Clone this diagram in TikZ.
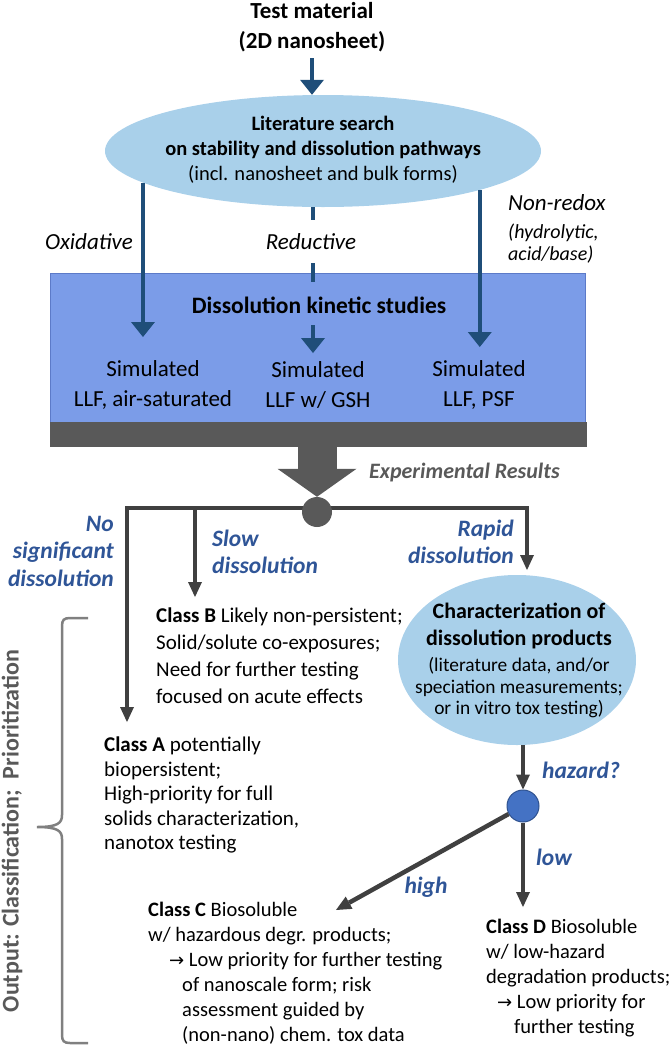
\documentclass[tikz,border=0pt]{standalone}
\usepackage{fontspec}
\setmainfont{Carlito}
\newfontfamily\djv[Scale=0.88]{DejaVu Sans}
\usetikzlibrary{arrows.meta,shapes.geometric}
\definecolor{litblue}{RGB}{169,208,234}
\definecolor{boxblue}{RGB}{123,156,232}
\definecolor{boxborder}{RGB}{92,122,200}
\definecolor{bargray}{RGB}{89,89,89}
\definecolor{arrowblue}{RGB}{31,78,121}
\definecolor{darkline}{RGB}{64,64,64}
\definecolor{labelblue}{RGB}{47,85,151}
\definecolor{hazblue}{RGB}{68,114,196}
\definecolor{hazborder}{RGB}{47,82,143}
\definecolor{bracegray}{RGB}{128,128,128}
\newcommand{\myfs}[2]{\fontsize{#1}{#2}\selectfont}
\newcommand{\rarr}{{\djv →}}
\tikzset{
  barrow/.style={draw=arrowblue, line width=4.5pt, -{Triangle[width=24pt,length=15pt,line width=0pt]}},
  garrow/.style={draw=darkline, line width=4.5pt, -{Triangle[width=14pt,length=15pt,line width=0pt]}},
  lbl/.style={text=labelblue, font=\bfseries\itshape\myfs{23.5}{27.5}},
  classtxt/.style={align=left, anchor=west, inner sep=0pt, font=\myfs{20.5}{25}},
  ell/.style={ellipse, fill=litblue, inner sep=0pt},
}
\begin{document}
\begin{tikzpicture}[x=1pt,y=-1pt]
\useasboundingbox (0,0) rectangle (672,1050);
% top
\node[font=\bfseries\myfs{23}{30}, align=center, inner sep=0pt] (test) at (312,27) {Test material\\(2D nanosheet)};
\node[ell, minimum width=436pt, minimum height=112pt] (lit) at (323,151) {};
\node[align=center, inner sep=0pt, font=\myfs{20.5}{25}] (littext) at (323,150) {\textbf{Literature search}\\\textbf{on stability and dissolution pathways}\\(incl. nanosheet and bulk forms)};
\draw[barrow, shorten <=6pt] (test.south) -- (test.south |- lit.north);
% box
\node[fill=boxblue, draw=boxborder, line width=1pt, minimum width=535pt, minimum height=149pt, anchor=north west, inner sep=0pt] (box) at (50,273) {};
\node[fill=bargray, minimum width=537pt, minimum height=25pt, anchor=north west, inner sep=0pt] (bar) at (50,422) {};
\node[font=\bfseries\myfs{23.5}{28}] (dks) at (319,305) {Dissolution kinetic studies};
\node[font=\myfs{23}{30}, align=center] (sim1) at (153,385) {Simulated\\LLF, air-saturated};
\node[font=\myfs{23}{30}, align=center] (sim2) at (318,385) {Simulated\\LLF w/ GSH};
\node[font=\myfs{23}{30}, align=center] (sim3) at (479,385) {Simulated\\LLF, PSF};
\coordinate (oxEnd) at (147,337);
\coordinate (reEnd) at (313,353);
\coordinate (nrEnd) at (483,347);
\draw[barrow] (lit.190.6) -- (lit.190.6 |- oxEnd);
\draw[barrow] (lit.346.64) -- (lit.346.64 |- nrEnd);
\draw[barrow, dash pattern=on 19pt off 43pt, dash phase=6pt] (lit.south -| reEnd) -- (reEnd);
\node[font=\itshape\myfs{23}{27}] (ox) at (89,242) {Oxidative};
\node[font=\itshape\myfs{23}{27}] (red) at (311,242) {Reductive};
\node[font=\itshape\myfs{23}{27}, anchor=west, inner sep=0pt] (nr) at (508,203) {Non-redox};
\node[font=\itshape\myfs{20}{22}, align=left, anchor=west, inner sep=0pt] (nr2) at (508,244) {(hydrolytic,\\acid/base)};
% split
\coordinate (junc) at (317,508);
\coordinate (tipA) at (127,722);
\coordinate (tipB) at (195,597);
\coordinate (tipR) at (527,570);
\draw[garrow] (junc) -| (tipA);
\draw[garrow] (junc -| tipB) -- (tipB);
\draw[garrow] (junc) -| (tipR);
\node[circle, fill=bargray, minimum size=30pt, inner sep=0pt] (split) at (317,512) {};
\draw[bargray, line width=39pt, -{Triangle[width=79pt,length=28pt,line width=0pt]}] (bar.south -| split) -- (split.north);
\node[font=\bfseries\itshape\myfs{22}{26}, text=bargray, anchor=west, inner sep=0pt] (expres) at (369,473) {Experimental Results};
\node[lbl, align=right, anchor=east, inner sep=0pt] (lnone) at (114,551) {No\\significant\\dissolution};
\node[lbl, align=left, anchor=west, inner sep=0pt] (lslow) at (212,552) {Slow\\dissolution};
\node[lbl, align=right, anchor=east, inner sep=0pt] (lrapid) at (514,542) {Rapid\\dissolution};
% classes
\node[classtxt, font=\myfs{21}{27}] (classB) at (156,656) {\textbf{Class B} Likely non-persistent;\\Solid/solute co-exposures;\\Need for further testing\\focused on acute effects};
\node[classtxt, font=\myfs{21}{24.5}] (classA) at (104,795) {\textbf{Class A} potentially\\biopersistent;\\High-priority for full\\solids characterization,\\nanotox testing};
\node[classtxt] (classC) at (148,973) {\textbf{Class C} Biosoluble\\w/ hazardous degr. products;\\\hspace*{21pt}\rarr\ Low priority for further testing\\\hspace*{34pt}of nanoscale form; risk\\\hspace*{34pt}assessment guided by\\\hspace*{34pt}(non-nano) chem. tox data};
\node[classtxt] (classD) at (486,978) {\textbf{Class D} Biosoluble\\w/ low-hazard\\degradation products;\\\hspace*{11pt}\rarr\ Low priority for\\\hspace*{28pt}further testing};
% characterization
\node[ell, minimum width=238pt, minimum height=170pt] (char) at (517,660) {};
\node[align=center, font=\bfseries\myfs{22}{27}, inner sep=0pt] (chart) at (519,626) {Characterization of\\dissolution products};
\node[align=center, font=\myfs{19.4}{21.5}, inner sep=0pt] (chard) at (519,688) {(literature data, and/or\\speciation measurements;\\or in vitro tox testing)};
\node[circle, fill=hazblue, draw=hazborder, line width=1pt, minimum size=32pt, inner sep=0pt] (haz) at (523,806) {};
\draw[garrow] (char.south -| haz) -- (haz.north);
\coordinate (tipLow) at (523,907);
\coordinate (tipHigh) at (336,910);
\draw[garrow] (haz) -- (tipLow);
\draw[garrow] (haz) -- (tipHigh);
\node[lbl, anchor=west, inner sep=0pt] (lhaz) at (542,770) {hazard?};
\node[lbl, anchor=west, inner sep=0pt] (llow) at (536,857) {low};
\node[lbl] (lhigh) at (426,887) {high};
% brace
\draw[bracegray, line width=2.5pt] (88,618) -- (70,618) .. controls (64,618) and (62,620) .. (62,626) -- (62,815) .. controls (62,823) and (58,827) .. (37,827) .. controls (58,827) and (62,831) .. (62,839) -- (62,1035) .. controls (62,1041) and (64,1043) .. (70,1043) -- (88,1043);
\node[rotate=90, font=\bfseries\myfs{24}{28}, text=bargray, inner sep=0pt] (outlbl) at (12,831) {Output: Classification;\ \ Prioritization};
\end{tikzpicture}
\end{document}
